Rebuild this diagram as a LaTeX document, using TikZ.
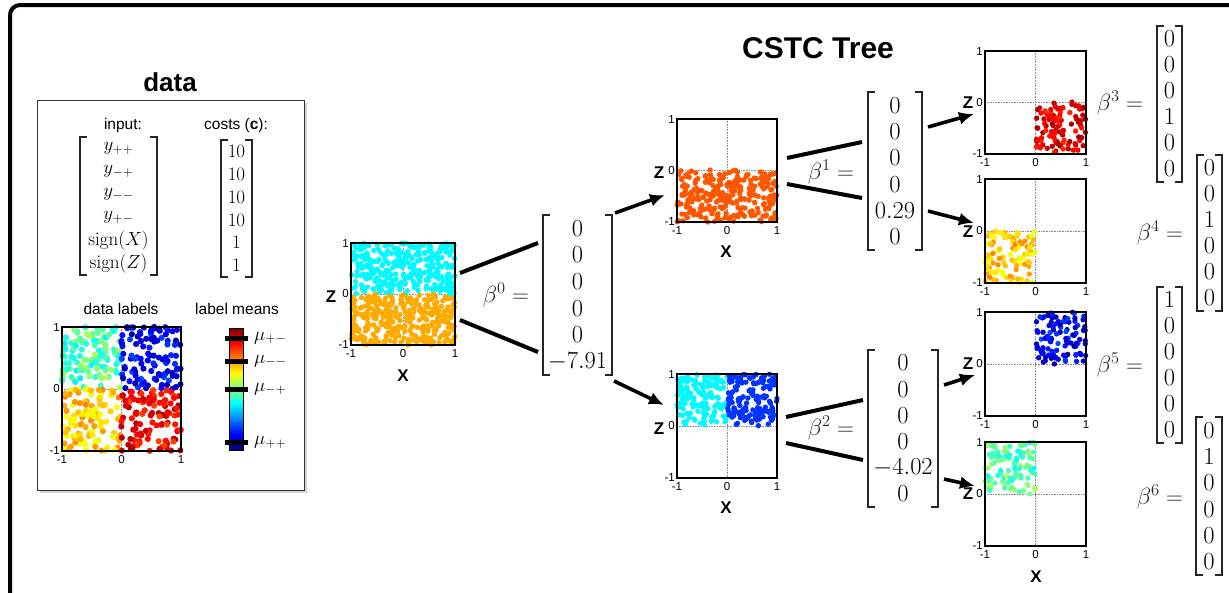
\RequirePackage{fix-cm}
\documentclass[tikz,border=0pt]{standalone}
\usepackage[no-math]{fontspec}
\setmainfont{Liberation Sans}
\usetikzlibrary{arrows.meta,shadows}
\newcommand\scat[8][2.7]{%
  \foreach \k in {1,...,#6}{%
    \pgfmathsetmacro\px{#2+(#3-#2)*rnd}%
    \pgfmathsetmacro\py{#4+(#5-#4)*rnd}%
    \pgfmathsetmacro\jt{#7+(#8-#7)*rnd}%
    \pgfmathsetmacro\jr{min(1,max(0,1.5-abs(4*\jt-3)))}%
    \pgfmathsetmacro\jg{min(1,max(0,1.5-abs(4*\jt-2)))}%
    \pgfmathsetmacro\jb{min(1,max(0,1.5-abs(4*\jt-1)))}%
    \definecolor{dotc}{rgb}{\jr,\jg,\jb}%
    \fill[dotc] (\px,\py) circle[radius=#1];
  }}
\newcommand\pgrid[4]{%
  \draw[gridl] ({(#1+#3)/2},#2) -- ({(#1+#3)/2},#4);
  \draw[gridl] (#1,{(#2+#4)/2}) -- (#3,{(#2+#4)/2});}
\newcommand\pframe[5]{%
  \node[pbox, minimum width={#4-#2}, minimum height={#5-#3}, anchor=north west] (#1) at (#2,#3) {};
  \node[tick, anchor=east] (#1-z1) at (#2-1,#3+1) {1};
  \node[tick, anchor=east] (#1-z0) at (#2-1,{(#3+#5)/2}) {0};
  \node[tick, anchor=east] (#1-zm) at (#2-1,#5) {-1};
  \node[tick, anchor=north] (#1-xm) at (#2,#5+3) {-1};
  \node[tick, anchor=north] (#1-x0) at ({(#2+#4)/2},#5+3) {0};
  \node[tick, anchor=north] (#1-x1) at (#4,#5+3) {1};}
\newcommand\vecm[7][ent]{%
  \draw[brk] (#3+7,#5) -- (#3,#5) -- (#3,#6) -- (#3+7,#6);
  \draw[brk] (#4-7,#5) -- (#4,#5) -- (#4,#6) -- (#4-7,#6);
  \foreach \e [count=\i] in {#7} {
    \node[#1] (#2-\i) at ({(#3+#4)/2},{#5+(#6-#5)*(\i-0.5)/6}) {$\e$};}}
\begin{document}
\begin{tikzpicture}[x=1pt,y=-1pt,
  pbox/.style={draw=black, line width=1.6, inner sep=0, outer sep=0},
  gridl/.style={densely dotted, black!45, line width=0.6},
  tick/.style={font=\fontsize{11.5}{12}\selectfont, inner sep=1},
  axl/.style={font=\fontsize{17}{18}\selectfont\bfseries, inner sep=0},
  ent/.style={font=\fontsize{24.5}{26}\selectfont, inner sep=0},
  ient/.style={font=\fontsize{19}{20}\selectfont, inner sep=0},
  blab/.style={font=\fontsize{23.5}{25}\selectfont, text=black!85, inner sep=0},
  brk/.style={draw=black!85, line width=1.3},
  head/.style={font=\fontsize{15.5}{16}\selectfont, inner sep=0},
  conn/.style={line width=4, line cap=butt},
  arr/.style={line width=3.6, -{Latex[length=15pt,width=13pt]}},
  cbtick/.style={line width=5},
]
\useasboundingbox (0,0) rectangle (1229,592);
\pgfmathsetseed{11}
% outer frame
\draw[line width=4, rounded corners=10] (10,620) -- (10,5) -- (1260,5);
% titles
\node[font=\fontsize{26}{28}\selectfont\bfseries, inner sep=0] (tdata) at (170,82) {data};
\node[font=\fontsize{30}{32}\selectfont\bfseries, inner sep=0] (ttree) at (818,48) {CSTC Tree};
% data box
\node[draw=black!80, line width=1.4, fill=white, inner sep=0, minimum width=267, minimum height=390,
  anchor=north west, drop shadow={shadow xshift=2.5pt, shadow yshift=-2.5pt, opacity=0.35}] (dbox) at (37,100) {};
\node[head] (hin) at (123,125) {input:};
\node[head] (hcost) at (236,125) {costs (\textbf{c}):};
\vecm[ient]{inp}{80}{157}{137}{275}{y_{++},y_{-+},y_{--},y_{+-},\mathrm{sign}(X),\mathrm{sign}(Z)}
\vecm[ient]{cost}{221}{252}{140}{277}{10,10,10,10,1,1}
\node[head] (hlab) at (121,309) {data labels};
\node[head] (hmean) at (237,309) {label means};
% data labels scatter
\pgrid{62}{327}{181}{451}
\scat[3.1]{62}{121}{327}{389}{110}{0.36}{0.55}
\scat[3.1]{121}{181}{327}{389}{110}{0.04}{0.2}
\scat[3.1]{62}{121}{389}{451}{110}{0.6}{0.75}
\scat[3.1]{121}{181}{389}{451}{110}{0.8}{0.96}
\pframe{dl}{62}{327}{181}{451}
% colorbar
\foreach \i in {0,...,63}{%
  \pgfmathsetmacro\jt{(\i+0.5)/64}%
  \pgfmathsetmacro\jr{min(1,max(0,1.5-abs(4*\jt-3)))}%
  \pgfmathsetmacro\jg{min(1,max(0,1.5-abs(4*\jt-2)))}%
  \pgfmathsetmacro\jb{min(1,max(0,1.5-abs(4*\jt-1)))}%
  \definecolor{dotc}{rgb}{\jr,\jg,\jb}%
  \fill[dotc] (229,{450-(\i+1)*122/64-0.3}) rectangle (243,{450-\i*122/64});}
\node[draw=black, line width=0.8, inner sep=0, minimum width=14, minimum height=122, anchor=north west] (cbar) at (229,328) {};
\foreach \yy/\lab [count=\j] in {338/{+-},361/{--},389/{-+},442/{++}}{
  \coordinate (ta\j) at (225,\yy);
  \coordinate (tb\j) at (248,\yy);
  \draw[cbtick] (ta\j) -- (tb\j);
  \node[ient, anchor=west] (mu\j) at (254,\yy) {$\mu_{\lab}$};}
% root plot
\pgrid{351}{243}{455}{345}
\scat{351}{455}{243}{294}{330}{0.37}{0.37}
\scat{351}{455}{294}{345}{330}{0.708}{0.708}
\pframe{root}{351}{243}{455}{345}
\node[axl] (root-Z) at (331,297) {Z};
\node[axl] (root-X) at (403,376) {X};
% plot 1
\pgrid{677}{119}{777}{222}
\scat{677}{777}{170}{222}{280}{0.79}{0.79}
\pframe{p1}{677}{119}{777}{222}
\node[axl] (p1-Z) at (659,173) {Z};
\node[axl] (p1-X) at (726,252) {X};
% plot 2
\pgrid{677}{374}{777}{478}
\scat{677}{727}{374}{426}{150}{0.37}{0.37}
\scat{727}{777}{374}{426}{150}{0.175}{0.175}
\pframe{p2}{677}{374}{777}{478}
\node[axl] (p2-Z) at (659,429) {Z};
\node[axl] (p2-X) at (726,508) {X};
% leaves
\pgrid{985}{51}{1086}{154}
\scat{1036}{1086}{102}{154}{105}{0.83}{0.97}
\pframe{p3}{985}{51}{1086}{154}
\node[axl] (p3-Z) at (968,103) {Z};
\pgrid{985}{179}{1086}{283}
\scat{985}{1036}{231}{283}{105}{0.6}{0.75}
\pframe{p4}{985}{179}{1086}{283}
\node[axl] (p4-Z) at (968,232) {Z};
\pgrid{985}{312}{1086}{416}
\scat{1036}{1086}{312}{364}{105}{0.03}{0.2}
\pframe{p5}{985}{312}{1086}{416}
\node[axl] (p5-Z) at (968,364) {Z};
\pgrid{985}{442}{1086}{546}
\scat{985}{1036}{442}{494}{105}{0.38}{0.56}
\pframe{p6}{985}{442}{1086}{546}
\node[axl] (p6-Z) at (968,494) {Z};
\node[axl] (p6-X) at (1036,577) {X};
% beta vectors
\node[blab] (b0l) at (506,295) {$\beta^0 =$};
\vecm{b0}{543}{612}{215}{375}{0,0,0,0,0,-7.91}
\node[blab] (b1l) at (831,172) {$\beta^1 =$};
\vecm{b1}{868}{922}{92}{250}{0,0,0,0,0.29,0}
\node[blab] (b2l) at (831,428) {$\beta^2 =$};
\vecm{b2}{868}{938}{350}{507}{0,0,0,0,-4.02,0}
\node[blab] (b3l) at (1120,103) {$\beta^3 =$};
\vecm{b3}{1157}{1182}{26}{182}{0,0,0,1,0,0}
\node[blab] (b4l) at (1160,233) {$\beta^4 =$};
\vecm{b4}{1197}{1222}{155}{311}{0,0,1,0,0,0}
\node[blab] (b5l) at (1120,365) {$\beta^5 =$};
\vecm{b5}{1157}{1182}{287}{443}{1,0,0,0,0,0}
\node[blab] (b6l) at (1160,497) {$\beta^6 =$};
\vecm{b6}{1196}{1222}{417}{575}{0,1,0,0,0,0}
% connectors
\coordinate (r0a) at (460,273); \coordinate (r0b) at (538,243);
\coordinate (r0c) at (460,320); \coordinate (r0d) at (538,352);
\draw[conn] (r0a) -- (r0b);
\draw[conn] (r0c) -- (r0d);
\coordinate (a0s) at (615,213); \coordinate (a0t) at (665,195);
\coordinate (a0u) at (614,381); \coordinate (a0v) at (664,405);
\draw[arr] (a0s) -- (a0t);
\draw[arr] (a0u) -- (a0v);
\coordinate (c1a) at (787,158); \coordinate (c1b) at (862,142);
\coordinate (c1c) at (787,184); \coordinate (c1d) at (862,198);
\draw[conn] (c1a) -- (c1b);
\draw[conn] (c1c) -- (c1d);
\coordinate (a1s) at (928,127); \coordinate (a1t) at (974,114);
\coordinate (a1u) at (928,211); \coordinate (a1v) at (974,223);
\draw[arr] (a1s) -- (a1t);
\draw[arr] (a1u) -- (a1v);
\coordinate (c2a) at (786,417); \coordinate (c2b) at (863,400);
\coordinate (c2c) at (786,443); \coordinate (c2d) at (863,460);
\draw[conn] (c2a) -- (c2b);
\draw[conn] (c2c) -- (c2d);
\coordinate (a2s) at (944,385); \coordinate (a2t) at (975,375);
\coordinate (a2u) at (944,479); \coordinate (a2v) at (975,486);
\draw[arr] (a2s) -- (a2t);
\draw[arr] (a2u) -- (a2v);
\end{tikzpicture}
\end{document}
